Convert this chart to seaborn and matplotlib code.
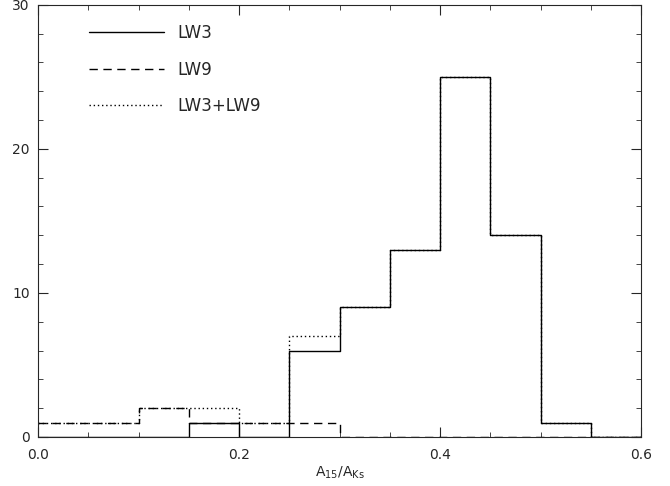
import matplotlib
matplotlib.use("Agg")
import matplotlib.pyplot as plt
import pandas as pd
import seaborn as sns
from matplotlib.ticker import MultipleLocator, FormatStrFormatter

edges = [0.0, 0.05, 0.1, 0.15, 0.2, 0.25, 0.3, 0.35, 0.4, 0.45, 0.5, 0.55, 0.6]
lw3 = [0, 0, 0, 1, 0, 6, 9, 13, 25, 14, 1, 0]
lw9 = [1, 1, 2, 1, 1, 1, 0, 0, 0, 0, 0, 0]
lw39 = [1, 1, 2, 2, 1, 7, 9, 13, 25, 14, 1, 0]

sns.set_style("ticks")
plt.rcParams["font.family"] = ["DejaVu Sans"]

fig = plt.figure(figsize=(6.7, 4.86), dpi=100)
ax = fig.add_axes([0.057, 0.101, 0.9, 0.889])

for vals, ls, lab in [(lw3, "-", "LW3"), (lw9, (0, (6, 4)), "LW9"), (lw39, (0, (1, 2)), "LW3+LW9")]:
    df = pd.DataFrame({"x": edges, "y": vals + [vals[-1]]})
    sns.lineplot(data=df, x="x", y="y", drawstyle="steps-post", color="black",
                 linewidth=1, linestyle=ls, label=lab, ax=ax)

ax.set_xlim(0, 0.6)
ax.set_ylim(0, 30)
ax.xaxis.set_major_locator(MultipleLocator(0.2))
ax.xaxis.set_minor_locator(MultipleLocator(0.05))
ax.yaxis.set_major_locator(MultipleLocator(10))
ax.yaxis.set_minor_locator(MultipleLocator(2))
ax.tick_params(which="both", direction="in", top=True, right=True, labelsize=10)
ax.tick_params(which="major", length=7)
ax.tick_params(which="minor", length=3.5)
ax.tick_params(axis="x", pad=8)
ax.tick_params(axis="y", pad=6)
ax.xaxis.set_major_formatter(FormatStrFormatter("%.1f"))
ax.set_xlabel(r"A$_{15}$/A$_{\mathrm{Ks}}$", fontsize=10, labelpad=2)
ax.set_ylabel("")
ax.legend(loc="upper left", frameon=False, fontsize=12, handlelength=4.5,
          labelspacing=1.1, bbox_to_anchor=(0.06, 0.99))
fig.savefig("out.png", dpi=100)
